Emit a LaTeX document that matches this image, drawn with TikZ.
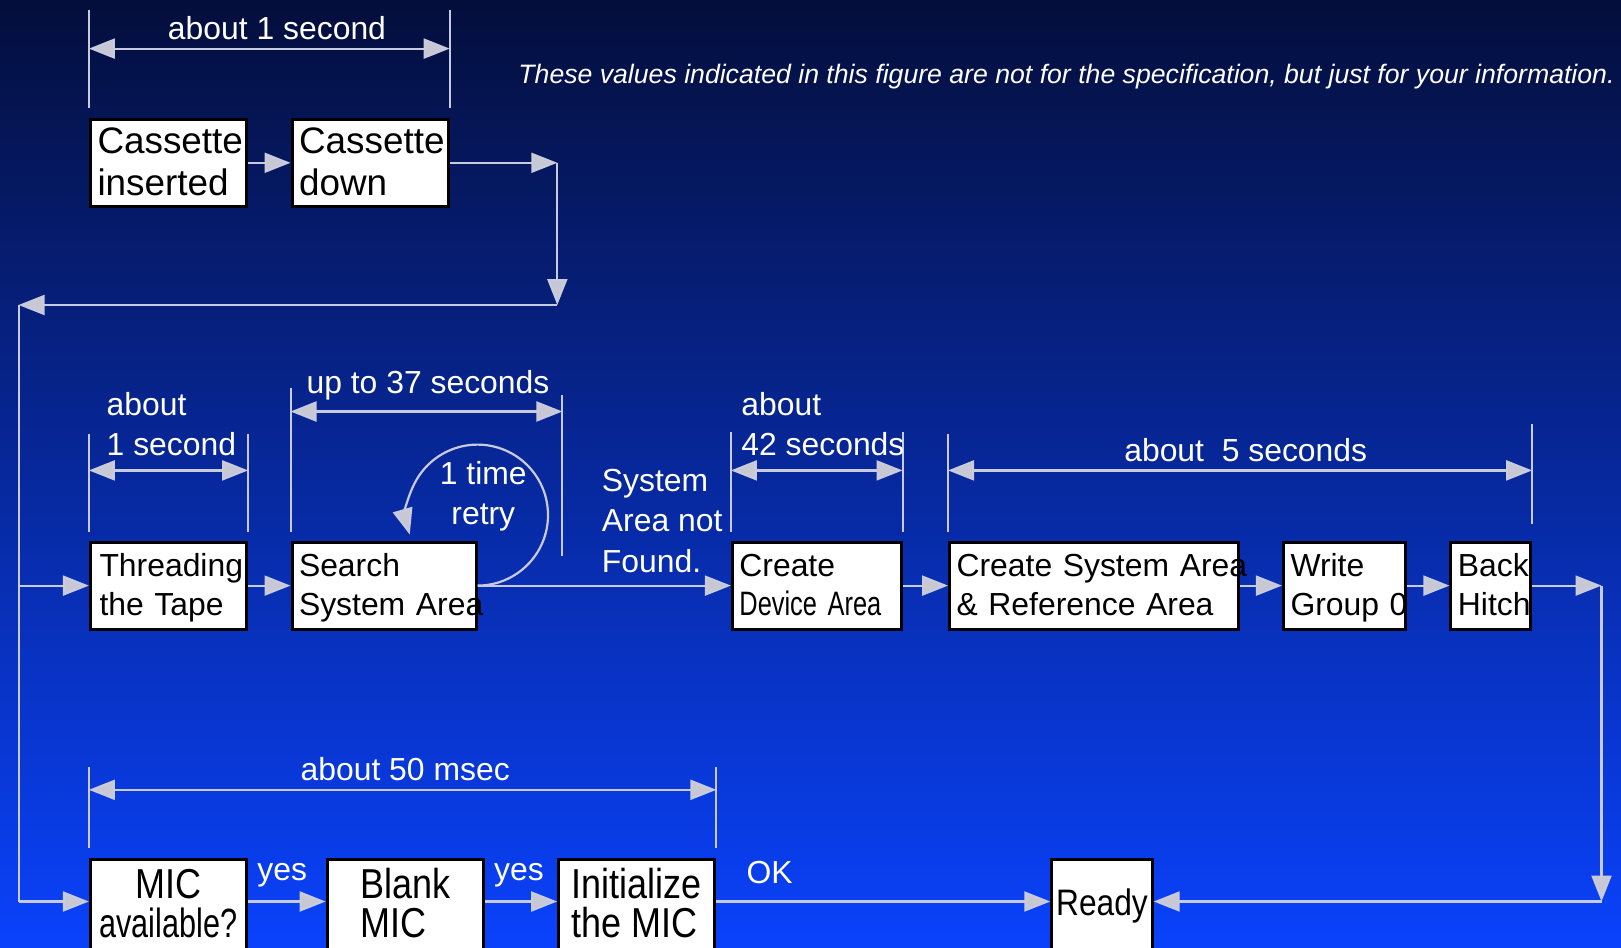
\documentclass[tikz,border=0pt]{standalone}
\usepackage{fontspec}
\setmainfont{Liberation Sans}
\newfontfamily\condsans[FakeStretch=0.86]{Liberation Sans}
\newfontfamily\narrowsans[FakeStretch=0.75]{Liberation Sans}
\usepackage{xcolor}
\usepackage{tikz}
\usetikzlibrary{arrows.meta}

\definecolor{bgtop}{RGB}{4,14,60}
\definecolor{bgmid}{RGB}{7,40,158}
\definecolor{bgbot}{RGB}{10,66,252}
\definecolor{linegray}{RGB}{200,202,222}
\definecolor{tipfill}{RGB}{200,200,212}

\newcommand{\bs}{\rule[-0.22em]{0pt}{1.09em}}
\newcommand{\ls}{\rule[-0.15em]{0pt}{0.93em}}

\tikzset{
  box/.style={draw=black,line width=3bp,fill=white,text=black,inner sep=0pt,align=left},
  topbox/.style={minimum height=86.9bp,font=\fontsize{37}{42.4}\selectfont},
  midbox/.style={minimum height=86.9bp,font=\fontsize{32}{39.3}\selectfont},
  lowbox/.style={minimum height=90bp,anchor=north,font=\condsans\fontsize{42}{39.3}\selectfont},
  flow/.style={draw=linegray,line width=2.2bp,->},
  wire/.style={draw=linegray,line width=2.2bp},
  dimline/.style={draw=linegray,line width=2.2bp,<->},
  extline/.style={draw=linegray,line width=2bp},
  lbl/.style={text=white,inner sep=0pt,align=left,font=\fontsize{32}{40.3}\selectfont},
}

\begin{document}
\begin{tikzpicture}[x=1bp,y=-1bp,>={Triangle[length=26bp,width=20bp,fill=tipfill]}]
\useasboundingbox (0,0) rectangle (1621,947);
\clip (0,0) rectangle (1621,947);
\shade[top color=bgtop,middle color=bgmid,bottom color=bgbot] (0,0) rectangle (1621,947);

% boxes
\node[box,topbox,minimum width=156.2bp,text width=142bp] (ins) at (168.5,162.8) {\bs Cassette\\\bs inserted};
\node[box,topbox,minimum width=156.2bp,text width=142bp] (down) at (370.1,162.8) {\bs Cassette\\\bs down};

\node[box,midbox,minimum width=156.2bp,text width=138bp] (thread) at (168.5,585.6) {\bs Threading\\\bs the Tape};
\node[box,midbox,minimum width=184bp,text width=170bp] (search) at (384,585.6) {\bs Search\\\bs\mbox{System Area}};
\node[box,midbox,minimum width=168.6bp,text width=154.6bp] (cdev) at (816.7,585.6) {\bs Create\\\bs{\narrowsans\fontsize{34}{39.3}\selectfont Device Area}};
\node[box,midbox,minimum width=288.5bp,text width=274.5bp] (csys) at (1093.8,585.6) {\bs\mbox{Create System Area}\\\bs\mbox{\& Reference Area}};
\node[box,midbox,minimum width=122.1bp,text width=108bp] (wgrp) at (1344.5,585.6) {\bs Write\\\bs\mbox{Group 0}};
\node[box,midbox,minimum width=79.7bp,text width=65.7bp] (bhitch) at (1490.8,585.6) {\bs Back\\\bs Hitch};

\node[box,lowbox,minimum width=156.2bp,align=center] (mic) at (168.5,858) {\ls MIC\\\ls{\narrowsans\fontsize{41}{39.3}\selectfont available?}};
\node[box,lowbox,minimum width=156.3bp] (blank) at (405.3,858) {\ls Blank\\\ls MIC};
\node[box,lowbox,minimum width=156.2bp] (init) at (636.8,858) {\ls Initialize\\\ls the MIC};
\node[box,lowbox,minimum width=100.4bp,font=\condsans\fontsize{37}{39.3}\selectfont] (ready) at (1102,858) {\ls Ready};

% corners of the long connectors
\coordinate (k1) at (557.3,162.8);
\coordinate (k2) at (557.3,305);
\coordinate (k3) at (18.6,305);
\coordinate (k4) at (18.6,901.5);
\coordinate (k5) at (1601.5,585.6);
\coordinate (k6) at (1601.5,901.5);

% connectors
\draw[flow] (ins.east) -- (down.west);
\draw[flow] (down.east) -- (k1);
\draw[flow] (k1) -- (k2);
\draw[flow] (k2) -- (k3);
\draw[wire] (k3) -- (k4);
\draw[flow] (k3 |- thread) -- (thread.west);
\draw[flow] (k4) -- (mic.west |- k4);
\draw[flow] (thread.east) -- (search.west);
\draw[flow] (search.east) -- (cdev.west);
\draw[flow] (search.east) arc[start angle=90,end angle=-196,radius=70.5];
\draw[flow] (cdev.east) -- (csys.west);
\draw[flow] (csys.east) -- (wgrp.west);
\draw[flow] (wgrp.east) -- (bhitch.west);
\draw[flow] (bhitch.east) -- (k5);
\draw[flow] (k5) -- (k6);
\draw[flow] (k6) -- (ready.east |- k6);
\draw[flow] (mic.east |- k4) -- (blank.west |- k4);
\draw[flow] (blank.east |- k4) -- (init.west |- k4);
\draw[flow] (init.east |- k4) -- (ready.west |- k4);

% time spans
\draw[extline] (ins.west |- 0,10.3) -- (ins.west |- 0,107.5);
\draw[extline] (down.east |- 0,10.3) -- (down.east |- 0,107.5);
\draw[dimline] (ins.west |- 0,48.6) -- (down.east |- 0,48.6);
\node[lbl] (dtop) at (277,27.9) {about 1 second};

\draw[extline] (thread.west |- 0,434) -- (thread.west |- 0,532.4);
\draw[extline] (thread.east |- 0,434) -- (thread.east |- 0,532.4);
\draw[dimline] (thread.west |- 0,470.4) -- (thread.east |- 0,470.4);
\node[lbl,anchor=west] (dthread) at (106.5,424.4) {about\\1 second};

\draw[extline] (search.west |- 0,387.7) -- (search.west |- 0,532.4);
\draw[extline] (562.4,394.9) -- (562.4,556.2);
\draw[dimline] (search.west |- 0,411.5) -- (562.4,411.5);
\node[lbl] (dsearch) at (428,385.5) {up to 37 seconds};
\node[lbl,align=center] (retry) at (483.3,496.6) {1 time\\retry};

\node[lbl,anchor=west] (notfound) at (601.7,521) {System\\Area not\\Found.};

\draw[extline] (cdev.west |- 0,432) -- (cdev.west |- 0,532.4);
\draw[extline] (cdev.east |- 0,432) -- (cdev.east |- 0,532.4);
\draw[dimline] (cdev.west |- 0,470.4) -- (cdev.east |- 0,470.4);
\node[lbl,anchor=west] (ddev) at (741.2,424.4) {about\\42 seconds};

\draw[extline] (csys.west |- 0,434.2) -- (csys.west |- 0,532.4);
\draw[extline] (bhitch.east |- 0,423.9) -- (bhitch.east |- 0,524.1);
\draw[dimline] (csys.west |- 0,470.4) -- (bhitch.east |- 0,470.4);
\node[lbl] (dfive) at (1245.7,449.7) {about\ \ 5 seconds};

\draw[extline] (mic.west |- 0,767) -- (mic.west |- 0,847.7);
\draw[extline] (init.east |- 0,767) -- (init.east |- 0,847.7);
\draw[dimline] (mic.west |- 0,789.8) -- (init.east |- 0,789.8);
\node[lbl] (dmsec) at (405.2,769.1) {about 50 msec};

\node[lbl] (yes1) at (282.2,875.5) {yes};
\node[lbl] (yes2) at (519,875.5) {yes};
\node[lbl,anchor=west] (ok) at (746.4,872.5) {OK};

\node[lbl,anchor=east,font=\itshape\fontsize{26.75}{32}\selectfont] (note) at (1614.8,76.5) {These values indicated in this figure are not for the specification, but just for your information.};
\end{tikzpicture}
\end{document}
